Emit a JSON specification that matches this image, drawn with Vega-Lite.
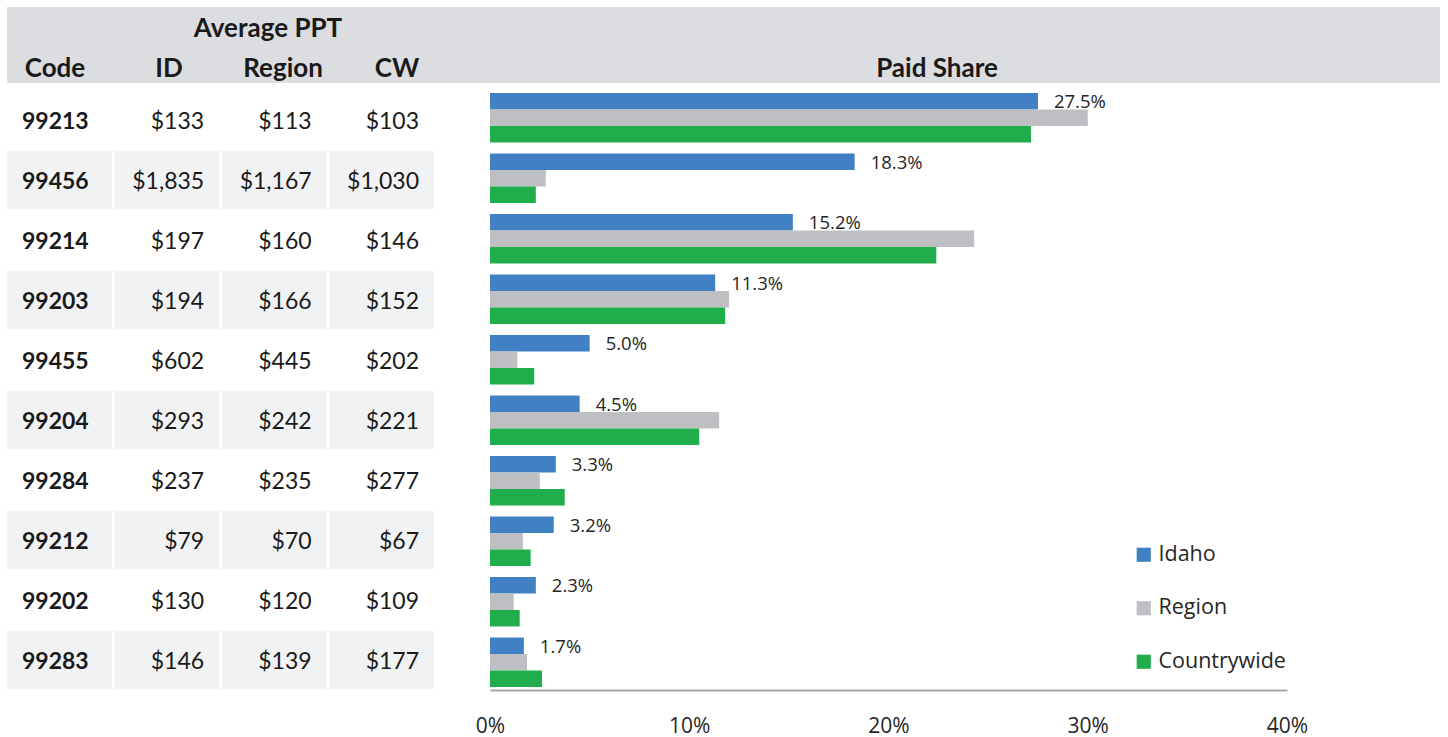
{
  "$schema": "https://vega.github.io/schema/vega-lite/v6.json",
  "padding": {"left": 7, "top": 7, "right": 0, "bottom": 0},
  "autosize": {"type": "pad"},
  "background": "white",
  "config": {"view": {"stroke": null}},
  "datasets": {
    "codes": [
      {"code": "99213", "rank": 1}, {"code": "99456", "rank": 2}, {"code": "99214", "rank": 3},
      {"code": "99203", "rank": 4}, {"code": "99455", "rank": 5}, {"code": "99204", "rank": 6},
      {"code": "99284", "rank": 7}, {"code": "99212", "rank": 8}, {"code": "99202", "rank": 9},
      {"code": "99283", "rank": 10}
    ],
    "headers": [
      {"label": "Average PPT", "col": "Region", "level": "group"},
      {"label": "Code", "col": "Code", "level": "column"},
      {"label": "ID", "col": "ID", "level": "column"},
      {"label": "Region", "col": "Region", "level": "column"},
      {"label": "CW", "col": "CW", "level": "column"}
    ],
    "header2": [{"label": "Paid Share", "level": "column"}],
    "ppt": [
      {"code": "99213", "col": "ID", "ppt": 133}, {"code": "99213", "col": "Region", "ppt": 113}, {"code": "99213", "col": "CW", "ppt": 103},
      {"code": "99456", "col": "ID", "ppt": 1835}, {"code": "99456", "col": "Region", "ppt": 1167}, {"code": "99456", "col": "CW", "ppt": 1030},
      {"code": "99214", "col": "ID", "ppt": 197}, {"code": "99214", "col": "Region", "ppt": 160}, {"code": "99214", "col": "CW", "ppt": 146},
      {"code": "99203", "col": "ID", "ppt": 194}, {"code": "99203", "col": "Region", "ppt": 166}, {"code": "99203", "col": "CW", "ppt": 152},
      {"code": "99455", "col": "ID", "ppt": 602}, {"code": "99455", "col": "Region", "ppt": 445}, {"code": "99455", "col": "CW", "ppt": 202},
      {"code": "99204", "col": "ID", "ppt": 293}, {"code": "99204", "col": "Region", "ppt": 242}, {"code": "99204", "col": "CW", "ppt": 221},
      {"code": "99284", "col": "ID", "ppt": 237}, {"code": "99284", "col": "Region", "ppt": 235}, {"code": "99284", "col": "CW", "ppt": 277},
      {"code": "99212", "col": "ID", "ppt": 79}, {"code": "99212", "col": "Region", "ppt": 70}, {"code": "99212", "col": "CW", "ppt": 67},
      {"code": "99202", "col": "ID", "ppt": 130}, {"code": "99202", "col": "Region", "ppt": 120}, {"code": "99202", "col": "CW", "ppt": 109},
      {"code": "99283", "col": "ID", "ppt": 146}, {"code": "99283", "col": "Region", "ppt": 139}, {"code": "99283", "col": "CW", "ppt": 177}
    ],
    "share": [
      {"code": "99213", "series": "Idaho", "share": 0.275}, {"code": "99213", "series": "Region", "share": 0.300}, {"code": "99213", "series": "Countrywide", "share": 0.2715},
      {"code": "99456", "series": "Idaho", "share": 0.183}, {"code": "99456", "series": "Region", "share": 0.028}, {"code": "99456", "series": "Countrywide", "share": 0.023},
      {"code": "99214", "series": "Idaho", "share": 0.152}, {"code": "99214", "series": "Region", "share": 0.243}, {"code": "99214", "series": "Countrywide", "share": 0.224},
      {"code": "99203", "series": "Idaho", "share": 0.113}, {"code": "99203", "series": "Region", "share": 0.120}, {"code": "99203", "series": "Countrywide", "share": 0.118},
      {"code": "99455", "series": "Idaho", "share": 0.050}, {"code": "99455", "series": "Region", "share": 0.0137}, {"code": "99455", "series": "Countrywide", "share": 0.0222},
      {"code": "99204", "series": "Idaho", "share": 0.045}, {"code": "99204", "series": "Region", "share": 0.115}, {"code": "99204", "series": "Countrywide", "share": 0.105},
      {"code": "99284", "series": "Idaho", "share": 0.033}, {"code": "99284", "series": "Region", "share": 0.025}, {"code": "99284", "series": "Countrywide", "share": 0.0375},
      {"code": "99212", "series": "Idaho", "share": 0.032}, {"code": "99212", "series": "Region", "share": 0.0165}, {"code": "99212", "series": "Countrywide", "share": 0.0204},
      {"code": "99202", "series": "Idaho", "share": 0.023}, {"code": "99202", "series": "Region", "share": 0.0119}, {"code": "99202", "series": "Countrywide", "share": 0.0149},
      {"code": "99283", "series": "Idaho", "share": 0.017}, {"code": "99283", "series": "Region", "share": 0.0186}, {"code": "99283", "series": "Countrywide", "share": 0.0261}
    ]
  },
  "spacing": 7,
  "vconcat": [
    {
      "spacing": 0,
      "bounds": "flush",
      "hconcat": [
        {
          "width": 427,
          "height": 76,
          "view": {"fill": "#dcdde0", "stroke": null},
          "data": {"name": "headers"},
          "encoding": {
            "x": {"field": "col", "type": "nominal", "scale": {"domain": ["Code", "ID", "Region", "CW"], "range": [-9, 447], "paddingInner": 0, "paddingOuter": 0}, "axis": null},
            "y": {"field": "level", "type": "nominal", "scale": {"domain": ["group", "column"], "paddingInner": 0, "paddingOuter": 0}, "axis": null},
            "text": {"field": "label"}
          },
          "layer": [
            {
              "transform": [{"filter": "datum.col == 'Code' && datum.level == 'column'"}],
              "mark": {"type": "text", "font": "Lato", "fontWeight": "bold", "fontSize": 26, "color": "#1a1a1a", "baseline": "middle", "dx": 0, "dy": 5}
            },
            {
              "transform": [{"filter": "datum.col != 'Code' && datum.level == 'column'"}],
              "mark": {"type": "text", "font": "Lato", "fontWeight": "bold", "fontSize": 26, "color": "#1a1a1a", "baseline": "middle", "dy": 5}
            },
            {
              "transform": [{"filter": "datum.level == 'group'"}],
              "mark": {"type": "text", "font": "Lato", "fontWeight": "bold", "fontSize": 26, "color": "#1a1a1a", "baseline": "middle", "dx": -15, "dy": 3}
            }
          ]
        },
        {
          "width": 1006,
          "height": 76,
          "view": {"fill": "#dcdde0", "stroke": null},
          "data": {"name": "header2"},
          "mark": {"type": "text", "font": "Lato", "fontWeight": "bold", "fontSize": 26, "color": "#1a1a1a", "baseline": "middle", "dy": 5},
          "encoding": {
            "y": {"field": "level", "type": "nominal", "scale": {"domain": ["group", "column"], "paddingInner": 0, "paddingOuter": 0}, "axis": null},
            "text": {"field": "label"}
          }
        }
      ]
    },
    {
      "spacing": 56,
      "bounds": "flush",
      "hconcat": [
        {
          "width": 427,
          "height": 600,
          "encoding": {
            "y": {"field": "code", "type": "nominal", "scale": {"domain": ["99213", "99456", "99214", "99203", "99455", "99204", "99284", "99212", "99202", "99283"], "paddingInner": 0.033, "paddingOuter": 0.017}, "axis": null}
          },
          "layer": [
            {
              "data": {"name": "codes"},
              "mark": {"type": "rect"},
              "encoding": {
                "x": {"datum": "Code", "type": "nominal", "scale": {"domain": ["Code", "ID", "Region", "CW"], "paddingInner": 0.025, "paddingOuter": 0}, "axis": null},
                "color": {"condition": {"test": "datum.rank % 2 == 0", "value": "#f1f2f4"}, "value": "#ffffff"}
              }
            },
            {
              "data": {"name": "ppt"},
              "transform": [{"lookup": "code", "from": {"data": {"name": "codes"}, "key": "code", "fields": ["rank"]}}],
              "mark": {"type": "rect"},
              "encoding": {
                "x": {"field": "col", "type": "nominal"},
                "color": {"condition": {"test": "datum.rank % 2 == 0", "value": "#f1f2f4"}, "value": "#ffffff"}
              }
            },
            {
              "data": {"name": "codes"},
              "mark": {"type": "text", "font": "Lato", "fontWeight": "bold", "fontSize": 23, "color": "#1a1a1a", "align": "left", "baseline": "middle", "dx": 15, "dy": 2},
              "encoding": {
                "x": {"datum": "Code", "type": "nominal", "bandPosition": 0},
                "text": {"field": "code"}
              }
            },
            {
              "data": {"name": "ppt"},
              "mark": {"type": "text", "font": "Lato", "fontSize": 23, "color": "#1a1a1a", "align": "right", "baseline": "middle", "dx": -15, "dy": 2},
              "encoding": {
                "x": {"field": "col", "type": "nominal", "bandPosition": 1},
                "text": {"field": "ppt", "type": "quantitative", "format": "$,.0f"}
              }
            }
          ]
        },
        {
          "width": 797,
          "height": 600,
          "data": {"name": "share"},
          "encoding": {
            "y": {"field": "code", "type": "nominal", "scale": {"domain": ["99213", "99456", "99214", "99203", "99455", "99204", "99284", "99212", "99202", "99283"], "paddingInner": 0.183, "paddingOuter": 0.05}, "axis": null},
            "yOffset": {"field": "series", "type": "nominal", "scale": {"domain": ["Idaho", "Region", "Countrywide"], "paddingInner": 0, "paddingOuter": 0}},
            "x": {
              "field": "share", "type": "quantitative",
              "scale": {"domain": [0, 0.4], "nice": false},
              "axis": {"values": [0, 0.1, 0.2, 0.3, 0.4], "format": ".0%", "ticks": false, "grid": false, "domainColor": "#a6a6a6", "domainWidth": 2, "labelFont": "Open Sans", "labelFontSize": 21, "labelColor": "#262626", "labelPadding": 25, "labelFlush": false, "title": null}
            }
          },
          "layer": [
            {
              "mark": {"type": "bar"},
              "encoding": {
                "color": {
                  "field": "series", "type": "nominal",
                  "scale": {"domain": ["Idaho", "Region", "Countrywide"], "range": ["#4280c4", "#bebfc3", "#20ad4b"]},
                  "legend": {"title": null, "orient": "none", "legendX": 1126, "legendY": 537, "symbolType": "square", "symbolSize": 200, "symbolStrokeWidth": 0, "labelFont": "Open Sans", "labelFontSize": 21.5, "labelColor": "#262626", "labelOffset": 4, "rowPadding": 30.5, "padding": 0}
                }
              }
            },
            {
              "transform": [{"filter": "datum.series == 'Idaho'"}],
              "mark": {"type": "text", "align": "left", "baseline": "middle", "dx": 16, "dy": 1, "font": "Open Sans", "fontSize": 18.5, "color": "#262626"},
              "encoding": {"text": {"field": "share", "type": "quantitative", "format": ".1%"}}
            }
          ]
        }
      ]
    }
  ]
}
